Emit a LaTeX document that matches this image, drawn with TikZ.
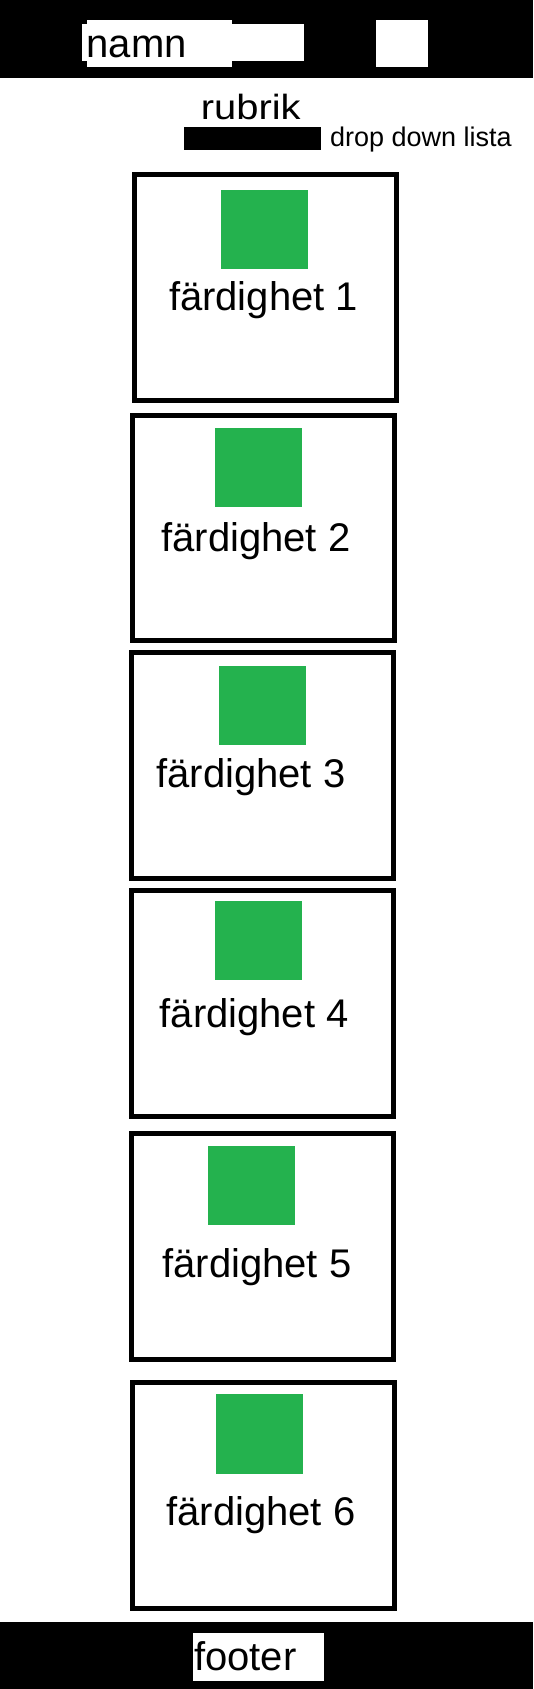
\documentclass[tikz,border=0pt]{standalone}
\usepackage{fontspec}
\setmainfont{Liberation Sans}
\definecolor{skillgreen}{RGB}{36,178,78}
\tikzset{
  card/.style={draw=black, line width=5pt, fill=white},
  badge/.style={fill=skillgreen},
  lbl/.style={anchor=base west, inner sep=0pt, text=black},
  skilltext/.style={lbl, font=\fontsize{40}{44}\selectfont},
}
\begin{document}
\begin{tikzpicture}[x=1pt,y=-1pt]
\useasboundingbox (0,0) rectangle (533,1689);
\fill[white] (0,0) rectangle (533,1689);
% header
\fill[black] (0,0) rectangle (533,77.5);
\fill[white] (86.7,20) rectangle (232.3,66.7);
\fill[white] (82.3,24) rectangle (303.5,60.7);
\fill[white] (375.6,20.4) rectangle (427.6,67);
\node[lbl, font=\fontsize{40}{44}\selectfont] (namn) at (86.5,57) {namn};
% rubrik and drop down
\node[lbl, font=\fontsize{35}{40}\selectfont, xscale=1.14] (rubrik) at (200.7,119.3) {rubrik};
\fill[black] (184,126.7) rectangle (321,149.5);
\node[lbl, font=\fontsize{27}{30}\selectfont] (dropdown) at (330,146.7) {drop down lista};
% cards
\draw[card] (134.2,174.2) rectangle (396.5,400.2);
\fill[badge] (221,190) rectangle (308.3,269);
\node[skilltext] (s1) at (168.8,310) {färdighet 1};

\draw[card] (132.5,415.2) rectangle (394.8,640.8);
\fill[badge] (215,427.7) rectangle (302,507);
\node[skilltext] (s2) at (161.2,551.7) {färdighet 2};

\draw[card] (131.5,652.5) rectangle (393.5,878.2);
\fill[badge] (219,665.7) rectangle (306,745);
\node[skilltext] (s3) at (156.2,787.7) {färdighet 3};

\draw[card] (131.5,890.8) rectangle (393.5,1116.5);
\fill[badge] (215,900.7) rectangle (302,980);
\node[skilltext] (s4) at (159.5,1027.7) {färdighet 4};

\draw[card] (131.5,1133.5) rectangle (393.5,1359.2);
\fill[badge] (207.7,1145.7) rectangle (295,1225);
\node[skilltext] (s5) at (162.2,1277.7) {färdighet 5};

\draw[card] (132.5,1382.5) rectangle (394.2,1608);
\fill[badge] (216,1394.3) rectangle (303,1474);
\node[skilltext] (s6) at (166.2,1525) {färdighet 6};
% footer
\fill[black] (0,1622.4) rectangle (533,1689);
\fill[white] (193,1632.6) rectangle (324,1680.5);
\node[lbl, font=\fontsize{40}{44}\selectfont] (footer) at (193.9,1670.7) {footer};
\end{tikzpicture}
\end{document}
